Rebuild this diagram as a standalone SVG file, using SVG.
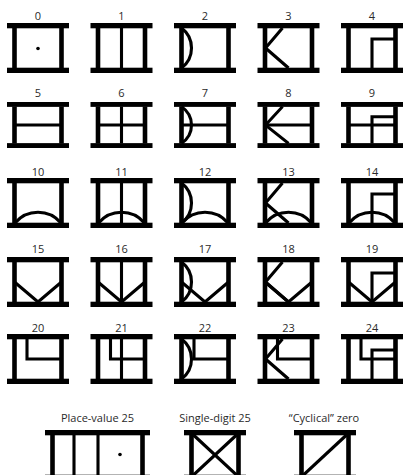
<svg xmlns="http://www.w3.org/2000/svg" xmlns:xlink="http://www.w3.org/1999/xlink" width="404" height="475" viewBox="0 0 404 475">
<style>
.bar{fill:#000}
.wall{stroke:#000;stroke-width:4.6;fill:none}
.ln{stroke:#000;stroke-width:3.1;fill:none;stroke-linejoin:miter}
.lbl{font-family:"Open Sans","Noto Sans",sans-serif;font-size:11px;fill:#2a2a2a;text-anchor:middle}
</style>
<defs>
<g id="frame"><rect class="bar" x="0" y="0" width="62" height="5.3"/><rect class="bar" x="0" y="44.7" width="62" height="5.3"/><path class="wall" d="M7.5,5V45M54.5,5V45"/></g>
<circle id="dot" cx="31" cy="25.5" r="1.8" fill="#000"/>
<path id="v" class="ln" d="M31,5V45"/>
<path id="larc" class="ln" d="M7.5,5A25,25 0 0 1 7.5,45"/>
<path id="k" class="ln" d="M25,5L8,25L31,45"/>
<path id="h4" class="ln" d="M54.5,16H31V45"/>
<path id="h" class="ln" d="M7.5,25H54.5"/>
<path id="barc" class="ln" d="M8,45A30,30 0 0 1 54,45"/>
<path id="vee" class="ln" d="M7.5,25L31,45L54.5,25"/>
<path id="h20" class="ln" d="M20,5V25H54.5"/>
</defs>
<g id="labels">
<text class="lbl" x="38" y="20">0</text><text class="lbl" x="121.5" y="20">1</text><text class="lbl" x="205" y="20">2</text><text class="lbl" x="288.5" y="20">3</text><text class="lbl" x="372" y="20">4</text>
<text class="lbl" x="38" y="97">5</text><text class="lbl" x="121.5" y="97">6</text><text class="lbl" x="205" y="97">7</text><text class="lbl" x="288.5" y="97">8</text><text class="lbl" x="372" y="97">9</text>
<text class="lbl" x="38" y="176">10</text><text class="lbl" x="121.5" y="176">11</text><text class="lbl" x="205" y="176">12</text><text class="lbl" x="288.5" y="176">13</text><text class="lbl" x="372" y="176">14</text>
<text class="lbl" x="38" y="253">15</text><text class="lbl" x="121.5" y="253">16</text><text class="lbl" x="205" y="253">17</text><text class="lbl" x="288.5" y="253">18</text><text class="lbl" x="372" y="253">19</text>
<text class="lbl" x="38" y="332">20</text><text class="lbl" x="121.5" y="332">21</text><text class="lbl" x="205" y="332">22</text><text class="lbl" x="288.5" y="332">23</text><text class="lbl" x="372" y="332">24</text>
<text class="lbl" x="97.5" y="422">Place-value 25</text><text class="lbl" x="215" y="422">Single-digit 25</text><text class="lbl" x="324" y="422">“Cyclical” zero</text>
</g>
<g id="g0" transform="translate(7,23)"><use href="#frame"/><use href="#dot"/></g>
<g id="g1" transform="translate(90.5,23)"><use href="#frame"/><use href="#v"/></g>
<g id="g2" transform="translate(174,23)"><use href="#frame"/><use href="#larc"/></g>
<g id="g3" transform="translate(257.5,23)"><use href="#frame"/><use href="#k"/></g>
<g id="g4" transform="translate(341,23)"><use href="#frame"/><use href="#h4"/></g>
<g id="g5" transform="translate(7,102) scale(1,0.92)"><use href="#frame"/><use href="#h"/></g>
<g id="g6" transform="translate(90.5,102) scale(1,0.92)"><use href="#frame"/><use href="#h"/><use href="#v"/></g>
<g id="g7" transform="translate(174,102) scale(1,0.92)"><use href="#frame"/><use href="#h"/><use href="#larc"/></g>
<g id="g8" transform="translate(257.5,102) scale(1,0.92)"><use href="#frame"/><use href="#h"/><use href="#k"/></g>
<g id="g9" transform="translate(341,102) scale(1,0.92)"><use href="#frame"/><use href="#h"/><use href="#h4"/></g>
<g id="g10" transform="translate(7,178)"><use href="#frame"/><use href="#barc"/></g>
<g id="g11" transform="translate(90.5,178)"><use href="#frame"/><use href="#barc"/><use href="#v"/></g>
<g id="g12" transform="translate(174,178)"><use href="#frame"/><use href="#barc"/><use href="#larc"/></g>
<g id="g13" transform="translate(257.5,178)"><use href="#frame"/><use href="#barc"/><use href="#k"/></g>
<g id="g14" transform="translate(341,178)"><use href="#frame"/><use href="#barc"/><use href="#h4"/></g>
<g id="g15" transform="translate(7,257)"><use href="#frame"/><use href="#vee"/></g>
<g id="g16" transform="translate(90.5,257)"><use href="#frame"/><use href="#vee"/><use href="#v"/></g>
<g id="g17" transform="translate(174,257)"><use href="#frame"/><use href="#vee"/><use href="#larc"/></g>
<g id="g18" transform="translate(257.5,257)"><use href="#frame"/><use href="#vee"/><use href="#k"/></g>
<g id="g19" transform="translate(341,257)"><use href="#frame"/><use href="#vee"/><use href="#h4"/></g>
<g id="g20" transform="translate(7,334)"><use href="#frame"/><use href="#h20"/></g>
<g id="g21" transform="translate(90.5,334)"><use href="#frame"/><use href="#h20"/><use href="#v"/></g>
<g id="g22" transform="translate(174,334)"><use href="#frame"/><use href="#h20"/><use href="#larc"/></g>
<g id="g23" transform="translate(257.5,334)"><use href="#frame"/><use href="#h20"/><use href="#k"/></g>
<g id="g24" transform="translate(341,334)"><use href="#frame"/><use href="#h20"/><use href="#h4"/></g>
<g id="pv25" transform="translate(45,430)"><rect class="bar" x="0" y="0" width="105" height="5.3"/><rect class="bar" x="0" y="44.7" width="105" height="5.3"/><path class="wall" d="M7.5,5V45M97.5,5V45"/><path class="ln" d="M29,5V45M53,5V45"/><circle cx="75" cy="24.5" r="1.8" fill="#000"/></g>
<g id="sd25" transform="translate(184,430)"><use href="#frame"/><path class="ln" d="M9.5,5L52.5,45M52.5,5L9.5,45"/></g>
<g id="cz" transform="translate(294,430)"><use href="#frame"/><path class="ln" d="M9.5,45L52.5,5"/></g>
<g id="connectors"/>
</svg>
